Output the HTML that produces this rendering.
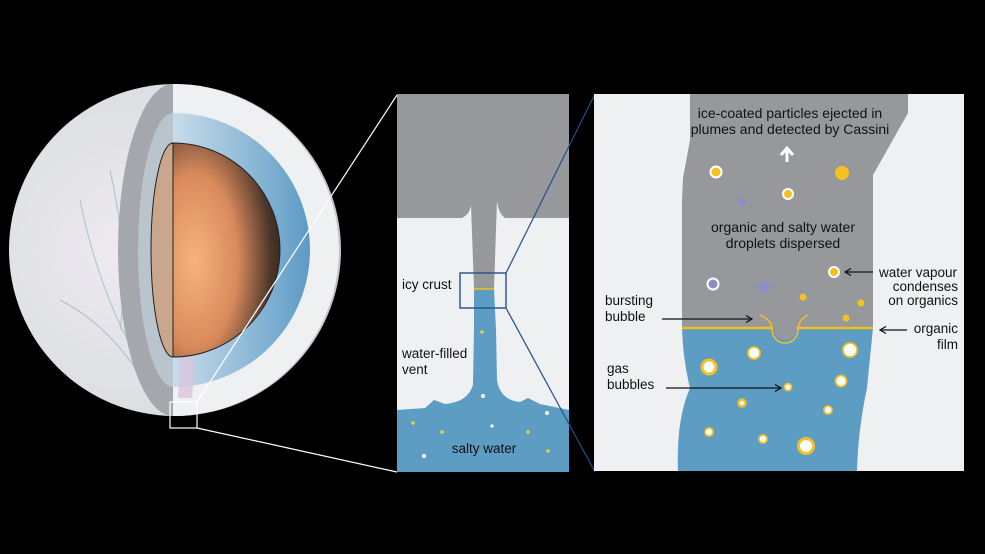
<!DOCTYPE html>
<html><head><meta charset="utf-8"><style>
html,body{margin:0;padding:0;background:#000;}
svg{display:block;}
text{font-family:"Liberation Sans",sans-serif;font-size:13.5px;fill:#111;}
</style></head><body>
<svg width="985" height="554" viewBox="0 0 985 554" xmlns="http://www.w3.org/2000/svg">
<defs>
<radialGradient id="surf" cx="0.35" cy="0.5" r="0.7">
<stop offset="0" stop-color="#eeeaf0"/><stop offset="0.7" stop-color="#dcdfe2"/><stop offset="1" stop-color="#b9bcc0"/></radialGradient>
<radialGradient id="core" cx="0.2" cy="0.55" r="0.9">
<stop offset="0" stop-color="#f6b27e"/><stop offset="0.45" stop-color="#d98a5c"/><stop offset="0.8" stop-color="#4a3529"/><stop offset="1" stop-color="#2a211c"/></radialGradient>
<linearGradient id="ocean" x1="0" y1="0" x2="1" y2="0">
<stop offset="0" stop-color="#c8dcea"/><stop offset="0.7" stop-color="#7fb0d2"/><stop offset="1" stop-color="#5b9ac6"/></linearGradient>
<marker id="ah" markerWidth="8" markerHeight="8" refX="7" refY="4" orient="auto" markerUnits="userSpaceOnUse"><path d="M1,0.5 L7,4 L1,7.5" fill="none" stroke="#111" stroke-width="1.3"/></marker>
</defs>
<rect width="985" height="554" fill="#000"/>
<!-- planet -->
<circle cx="175" cy="250" r="166" fill="url(#surf)"/>
<path d="M110,170 Q130,260 120,330 M80,200 Q100,300 150,380 M150,120 Q160,230 170,300 M60,300 Q120,330 160,410" stroke="#7fa8b0" stroke-width="1" fill="none" opacity="0.6"/>
<path d="M173,84 A55,166 0 0 0 173,416 Z" fill="#a4a7ab"/>
<path d="M173,113 A35,137 0 0 0 173,387 Z" fill="#b9c4cd"/>
<path d="M173,84 A166,166 0 0 1 173,416 Z" fill="#eef0f1"/>
<path d="M173,113 A137,137 0 0 1 173,387 Z" fill="url(#ocean)"/>
<path d="M173,143 A107,107 0 0 1 173,357 Z" fill="url(#core)" stroke="#222" stroke-width="1"/>
<path d="M173,143 A22,107 0 0 0 173,357 Z" fill="#c9a78b" stroke="#222" stroke-width="1"/>
<path d="M180,358 L195,358 L192,398 L178,398Z" fill="#d9c5dc" opacity="0.8"/>
<rect x="170" y="402" width="27" height="26" fill="none" stroke="#fff" stroke-width="1.2"/>
<line x1="197" y1="402" x2="397" y2="95" stroke="#fff" stroke-width="1.2"/>
<line x1="197" y1="428" x2="397" y2="472" stroke="#fff" stroke-width="1.2"/>
<!-- middle panel -->
<rect x="397" y="94" width="172" height="378" fill="#eef0f1"/>
<path d="M397,94 H569 V218 H505 Q498,213 497,200 L494,289 H474 L471,205 Q470,214 462,218 H397Z" fill="#97989c"/>
<path d="M474,289 H494 L496,330 L497,380 Q500,400 520,402 L528,398 L540,404 L569,410 V472 H397 V410 L425,408 L434,400 L445,404 Q468,402 473,385 L474,330Z" fill="#5d9cc3"/>
<line x1="474" y1="289" x2="494" y2="289" stroke="#f2c020" stroke-width="1.5"/>
<rect x="460" y="273" width="46" height="35" fill="none" stroke="#24508a" stroke-width="1.4"/>
<g fill="#f2d030"><circle cx="482" cy="332" r="1.8"/><circle cx="413" cy="423" r="1.8"/><circle cx="442" cy="432" r="1.8"/><circle cx="528" cy="432" r="1.8"/><circle cx="548" cy="451" r="1.8"/></g>
<g fill="#fff"><circle cx="483" cy="396" r="2"/><circle cx="547" cy="413" r="2"/><circle cx="492" cy="426" r="1.6"/><circle cx="424" cy="456" r="2"/></g>
<text x="402" y="289">icy crust</text>
<text x="402" y="358">water-filled</text>
<text x="402" y="374">vent</text>
<text x="484" y="453" text-anchor="middle">salty water</text>
<line x1="506" y1="273" x2="595" y2="94" stroke="#24508a" stroke-width="1.2"/>
<line x1="506" y1="308" x2="595" y2="472" stroke="#24508a" stroke-width="1.2"/>
<!-- right panel -->
<rect x="594" y="94" width="370" height="377" fill="#eef0f1"/>
<path d="M690,94 H908 V113 L873,175 L873,328 H682 L682,200 L683,178 L690,140Z" fill="#97989c"/>
<path d="M682,328 H873 L867,388 Q858,430 857,471 H678 Q676,420 690,388 Q683,360 682,328Z" fill="#5d9cc3"/>
<path d="M773,328 A12,12 0 0 0 797,328Z" fill="#97989c"/>
<path d="M682,328 H773 M797,328 H873" stroke="#f2c020" stroke-width="2.5"/>
<path d="M760,315 Q772,320 772,330 A13,13 0 0 0 798,330 Q798,320 808,315" fill="none" stroke="#f2c020" stroke-width="1.5"/>
<text x="790" y="118" text-anchor="middle" style="font-size:14px">ice-coated particles ejected in</text>
<text x="790" y="134" text-anchor="middle" style="font-size:14px">plumes and detected by Cassini</text>
<path d="M787,162 V150 M781,155 L787,148 L793,155" stroke="#fff" stroke-width="3" fill="none"/>
<text x="783" y="232" text-anchor="middle" style="font-size:14px">organic and salty water</text>
<text x="783" y="248" text-anchor="middle" style="font-size:14px">droplets dispersed</text>
<g stroke="#fff" stroke-width="2"><circle cx="716" cy="172" r="5.5" fill="#f5c022"/><circle cx="788" cy="194" r="5" fill="#f5c022"/><circle cx="834" cy="272" r="5" fill="#f5c022"/><circle cx="713" cy="284" r="5.5" fill="#8c8fc4"/></g>
<circle cx="842" cy="173" r="7" fill="#f5c022"/>
<circle cx="742" cy="202" r="4" fill="#8c8fc4"/>
<circle cx="764" cy="287" r="6" fill="#8c8fc4"/>
<g fill="#f5c022"><circle cx="803" cy="297" r="3.5"/><circle cx="861" cy="303" r="3.5"/><circle cx="846" cy="318" r="3.5"/></g>
<g fill="#fff" stroke="#f5c022" stroke-width="1.8"><circle cx="754" cy="353" r="6"/><circle cx="850" cy="350" r="7"/><circle cx="709" cy="367" r="7" stroke-width="3"/><circle cx="841" cy="381" r="5.5"/><circle cx="788" cy="387" r="3.5"/><circle cx="742" cy="403" r="3.5" stroke-width="2.5"/><circle cx="828" cy="410" r="4"/><circle cx="709" cy="432" r="4"/><circle cx="763" cy="439" r="4"/><circle cx="806" cy="446" r="7.5" stroke-width="3"/></g>
<text x="879" y="277">water vapour</text>
<text x="958" y="291" text-anchor="end">condenses</text>
<text x="958" y="305" text-anchor="end">on organics</text>
<line x1="873" y1="272" x2="845" y2="272" stroke="#111" stroke-width="1.2" marker-end="url(#ah)"/>
<text x="605" y="305">bursting</text>
<text x="605" y="321">bubble</text>
<line x1="662" y1="319" x2="752" y2="319" stroke="#111" stroke-width="1.2" marker-end="url(#ah)"/>
<text x="958" y="333" text-anchor="end">organic</text>
<text x="958" y="349" text-anchor="end">film</text>
<line x1="907" y1="330" x2="880" y2="330" stroke="#111" stroke-width="1.2" marker-end="url(#ah)"/>
<text x="607" y="373">gas</text>
<text x="607" y="389">bubbles</text>
<line x1="666" y1="388" x2="781" y2="388" stroke="#111" stroke-width="1.2" marker-end="url(#ah)"/>
</svg>
</body></html>
